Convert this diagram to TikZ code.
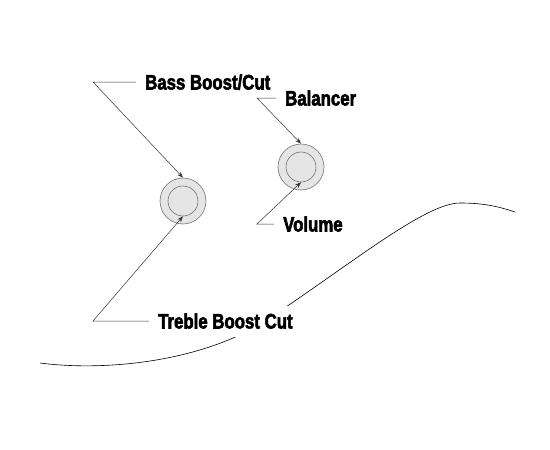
\documentclass[tikz,border=0pt]{standalone}
\usepackage{fontspec}
\setmainfont{Liberation Sans}
\newfontfamily\labfont[FakeStretch=0.8,BoldFeatures={FakeBold=2.5}]{Liberation Sans}
\usetikzlibrary{arrows.meta}
\begin{document}
\begin{tikzpicture}[x=1pt,y=-1pt,
  lab/.style={anchor=west,inner xsep=9pt,inner ysep=0pt,font=\labfont\bfseries\fontsize{21}{22}\selectfont,text height=15pt,text depth=0pt},
  lead/.style={draw=black!80,line width=0.5pt,-{Stealth[length=6pt,width=4.5pt]}},
  knobout/.style={circle,draw=black!55,fill=black!10,line width=0.6pt,minimum size=46pt,inner sep=0pt},
  knobin/.style={circle,draw=black!55,fill=black!10,line width=0.6pt,minimum size=30pt,inner sep=0pt},
  body/.style={draw=black,line width=0.6pt}]
\useasboundingbox (0,0) rectangle (550,450);
\draw[body] (40,363) .. controls (110,372) and (205,360) .. (265,321)
  .. controls (350,265) and (425,203) .. (460,203)
  .. controls (485,203) and (500,207) .. (515,212);
\node[knobout] (k1o) at (183,201) {};
\node[knobin] (k1i) at (183,201) {};
\node[knobout] (k2o) at (301,167) {};
\node[knobin] (k2i) at (301,167) {};
\node[lab] (bass) at (136,82) {Bass Boost/Cut};
\node[lab] (bal) at (276,98) {Balancer};
\node[lab] (vol) at (274,224) {Volume};
\node[lab,fill=white,inner ysep=8pt] (tre) at (149,321) {Treble Boost Cut};
\coordinate (c1) at (93,82);
\coordinate (c2) at (257,98);
\coordinate (c3) at (257,224);
\coordinate (c4) at (93,321);
\draw[lead] (bass.west) -- (c1) -- (k1o.north);
\draw[lead] (bal.west) -- (c2) -- (k2o.north);
\draw[lead] (vol.west) -- (c3) -- (k2i.south);
\draw[lead] (tre.west) -- (c4) -- (k1i.south);
\end{tikzpicture}
\end{document}
